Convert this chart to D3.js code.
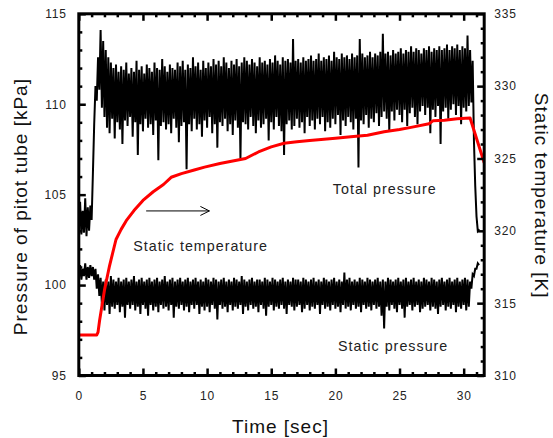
<!DOCTYPE html>
<html><head><meta charset="utf-8">
<script src="https://cdn.jsdelivr.net/npm/d3@7"></script>
<style>
body{margin:0;background:#fff}
svg text{font-family:Arial,"Liberation Sans",sans-serif}
</style>
</head><body>
<svg id="chart" width="553" height="438"></svg>
<script>
// ---- data ----
const sampleStep = 0.1; // seconds between samples of the pressure records
const totalPressure = [
103.2,104.6,102.8,104.1,102.9,104.8,102.7,104.3,103.0,104.4,
103.6,106.2,108.9,111.0,110.2,112.6,110.8,114.1,109.8,113.5,
109.3,113.0,108.7,112.6,108.4,112.3,109.2,112.0,108.1,112.2,
109.0,111.8,108.6,112.1,107.8,111.9,109.1,112.3,108.8,111.7,
109.3,112.0,108.2,111.8,109.0,112.4,107.2,111.9,108.9,112.1,
108.5,111.7,109.2,112.2,108.7,112.0,108.9,111.8,108.3,112.3,
109.1,112.0,106.9,111.9,108.8,112.5,109.0,112.1,108.6,111.8,
108.9,112.2,108.4,112.0,109.2,111.9,108.7,112.3,107.9,112.1,
108.8,112.4,109.0,111.9,106.4,112.2,108.9,112.0,108.5,112.6,
109.2,112.1,108.6,112.3,108.9,111.9,108.2,112.4,109.1,112.0,
108.7,112.3,109.3,112.1,108.4,112.5,108.9,112.2,107.6,112.4,
109.0,112.1,108.8,112.6,109.2,112.3,108.5,112.0,108.9,112.4,
108.3,112.2,109.1,112.5,108.7,112.1,107.0,112.3,109.0,112.6,
108.9,112.4,108.6,112.2,109.3,112.5,108.8,112.3,108.4,112.1,
109.1,112.6,108.7,112.3,108.9,112.4,109.2,112.2,108.0,112.5,
109.0,112.3,108.6,112.7,109.3,112.4,108.8,112.2,108.5,112.6,
107.2,112.4,108.9,112.5,109.1,112.3,108.6,113.6,108.8,112.4,
109.2,112.5,108.7,112.3,109.0,112.6,108.4,112.4,109.3,112.5,
108.8,112.7,109.1,112.4,108.6,112.5,109.2,112.8,108.9,112.4,
109.3,112.6,108.5,112.5,109.0,112.7,108.7,112.4,109.2,112.9,
108.9,112.6,109.4,112.5,108.3,112.8,109.1,112.6,108.8,112.7,
109.3,112.5,109.0,112.8,108.6,112.6,109.2,112.7,106.5,113.6,
109.1,112.8,108.9,112.6,109.4,112.7,108.7,112.9,109.2,112.6,
109.0,112.8,109.5,112.7,108.8,112.9,109.3,113.9,109.6,112.8,
109.2,112.9,108.5,112.7,109.6,113.0,109.1,112.8,109.7,112.9,
109.4,113.1,109.0,112.8,109.7,113.0,108.8,112.9,109.5,113.2,
109.8,112.9,109.3,113.1,108.9,113.0,109.6,112.8,109.9,113.1,
109.4,113.0,109.8,113.2,108.4,112.9,109.7,113.1,109.3,113.0,
109.9,113.2,107.8,113.0,109.6,113.1,109.8,113.3,109.2,113.0,
109.7,113.2,110.0,113.1,109.4,113.3,109.9,113.0,108.9,113.2,
109.8,113.1,109.6,113.8,109.9,113.0,110.1,112.4,108.0,105.5,
103.8,103.0,103.1
];
const staticPressure = [
100.4,101.1,100.3,100.9,100.5,101.2,100.3,101.0,100.4,101.1,
100.5,101.0,100.3,100.9,99.8,100.6,99.4,100.4,98.9,100.2,
98.6,100.3,98.9,100.2,98.4,100.5,98.8,100.3,98.7,100.2,
98.9,100.4,98.5,100.2,98.8,100.3,98.2,100.4,98.9,100.2,
98.7,100.3,98.9,100.5,98.6,100.2,98.8,100.3,98.4,100.4,
98.9,100.2,98.7,100.3,98.3,100.4,98.9,100.2,98.6,100.3,
98.8,100.4,98.5,100.2,98.9,100.3,98.7,100.5,98.8,100.2,
98.6,100.3,98.9,100.4,98.2,100.2,98.8,100.3,98.7,100.4,
98.9,100.2,98.6,100.3,98.8,100.4,98.5,100.2,98.9,100.3,
98.7,100.4,98.9,100.2,98.4,100.3,98.8,100.2,98.6,100.4,
98.8,100.3,98.5,100.2,98.9,100.4,98.7,100.3,98.1,100.2,
98.9,100.3,98.7,100.4,98.8,100.2,98.5,100.3,98.9,100.2,
98.6,100.4,98.8,100.3,98.7,100.2,98.9,100.5,98.4,100.3,
98.8,100.2,98.6,100.3,98.9,100.4,98.7,100.2,98.8,100.3,
98.5,100.3,98.9,100.2,98.7,100.4,98.3,100.3,98.8,100.2,
98.9,100.4,98.6,100.3,98.8,100.2,98.7,100.3,98.9,100.4,
98.7,100.2,98.4,100.3,98.9,100.2,98.8,100.4,98.6,100.3,
98.8,100.3,98.9,100.2,98.5,100.4,98.7,100.3,98.9,100.2,
98.6,100.3,98.8,100.4,98.7,100.2,98.9,100.3,98.4,100.2,
98.9,100.4,98.7,100.3,98.8,100.2,98.6,100.3,98.9,100.4,
98.7,100.2,98.8,100.3,98.5,100.2,98.9,100.7,98.7,100.3,
98.8,100.4,98.6,100.2,98.9,100.3,98.7,100.2,98.8,100.4,
98.5,100.3,98.9,100.2,98.7,100.4,98.8,100.3,98.6,100.2,
98.9,100.3,98.7,100.4,98.8,100.2,98.3,100.3,97.6,100.2,
98.8,100.4,98.6,100.3,98.9,100.2,98.7,100.3,98.5,100.4,
98.9,100.2,98.7,100.3,98.2,100.4,98.8,100.2,98.9,100.3,
98.6,100.4,98.8,100.2,98.9,100.3,98.5,100.2,98.7,100.4,
98.8,100.3,98.9,100.2,98.6,100.4,98.8,100.3,98.7,100.2,
98.4,100.3,98.8,100.4,98.9,100.2,98.6,100.3,98.8,100.4,
98.7,100.2,98.9,100.3,98.5,100.4,98.8,100.2,98.7,100.3,
98.9,100.4,98.6,100.3,98.8,100.2,99.8,100.6,100.5,100.9,
100.9,101.2,101.1
];
const tempTime = [0,1.4,1.5,1.62,2.0,2.4,2.9,3.3,3.7,4.3,5.0,5.8,6.6,7.2,8.0,9.0,9.8,11.0,12.4,13.0,
  14,15,16,17,18,20,21.2,22.5,23.8,25,25.9,27.3,27.6,28.5,29.5,30.5,31.6];
const tempValues = [312.8,312.8,313.0,313.8,315.9,317.6,319.4,320.1,320.7,321.4,322.1,322.7,323.2,323.7,323.95,324.2,324.4,324.65,324.9,325.0,
  325.45,325.8,326.05,326.15,326.25,326.4,326.5,326.6,326.85,327.0,327.15,327.4,327.6,327.65,327.75,327.8,324.7];

const timeDomain = [0, 31.6];
const pressureDomain = [95, 115];
const tempDomain = [310, 335];
const timeTicks = [0,5,10,15,20,25,30];
const pressureTicks = [95,100,105,110,115];
const tempTicks = [310,315,320,325,330,335];

const labelTotal = "Total pressure";
const labelStaticT = "Static temperature";
const labelStaticP = "Static pressure";
const xTitle = "Time [sec]";
const yTitleLeft = "Pressure of pitot tube [kPa]";
const yTitleRight = "Static temperature [K]";

// ---- drawing ----
const svg = d3.select("#chart");
const L = 78.8, R = 484.2, T = 13.8, B = 375.5;
const x = d3.scaleLinear().domain(timeDomain).range([L, R]);
const y = d3.scaleLinear().domain(pressureDomain).range([B, T]);
const y2 = d3.scaleLinear().domain(tempDomain).range([B, T]);

const range = (a, b, s) => d3.range(a, b + s / 2, s);
const minorT = range(0, 31, 1).filter(v => v % 5 !== 0);
const minorP = range(95, 115, 1).filter(v => v % 5 !== 0);
const minorK = range(310, 335, 1).filter(v => v % 5 !== 0);

svg.append("clipPath").attr("id", "clip")
  .append("rect").attr("x", L).attr("y", T).attr("width", R - L).attr("height", B - T);

const plot = svg.append("g").attr("clip-path", "url(#clip)");

const lineP = d3.line().x((d, i) => x(i * sampleStep)).y(d => y(d));
plot.append("path").datum(totalPressure).attr("d", lineP)
  .attr("fill", "none").attr("stroke", "#000").attr("stroke-width", 2);
plot.append("path").datum(staticPressure).attr("d", lineP)
  .attr("fill", "none").attr("stroke", "#000").attr("stroke-width", 2);

const lineT = d3.line().x((d, i) => x(tempTime[i])).y(d => y2(d));
plot.append("path").datum(tempValues).attr("d", lineT)
  .attr("fill", "none").attr("stroke", "#ff0000").attr("stroke-width", 3)
  .attr("stroke-linejoin", "round");

// axes
function styleAxis(g) {
  g.select(".domain").remove();
  g.selectAll(".tick line").attr("stroke", "#000").attr("stroke-width", 2.5);
  g.selectAll("text").attr("font-size", 12).attr("fill", "#222")
    .attr("font-family", "Arial, 'Liberation Sans', sans-serif")
    .style("letter-spacing", "0.8px");
}
const major = 7, minor = 3.5;
svg.append("g").attr("transform", `translate(0,${B})`)
  .call(d3.axisBottom(x).tickValues(timeTicks).tickSize(-major).tickPadding(16).tickFormat(d3.format("d"))).call(styleAxis);
svg.append("g").attr("transform", `translate(0,${B})`)
  .call(d3.axisBottom(x).tickValues(minorT).tickSize(-minor).tickFormat("")).call(styleAxis);
svg.append("g").attr("transform", `translate(0,${T})`)
  .call(d3.axisTop(x).tickValues(timeTicks).tickSize(-major).tickFormat("")).call(styleAxis);
svg.append("g").attr("transform", `translate(0,${T})`)
  .call(d3.axisTop(x).tickValues(minorT).tickSize(-minor).tickFormat("")).call(styleAxis);

svg.append("g").attr("transform", `translate(${L},0)`)
  .call(d3.axisLeft(y).tickValues(pressureTicks).tickSize(-major).tickPadding(12).tickFormat(d3.format("d"))).call(styleAxis);
svg.append("g").attr("transform", `translate(${L},0)`)
  .call(d3.axisLeft(y).tickValues(minorP).tickSize(-minor).tickFormat("")).call(styleAxis);
svg.append("g").attr("transform", `translate(${R},0)`)
  .call(d3.axisRight(y2).tickValues(tempTicks).tickSize(-major).tickPadding(10).tickFormat(d3.format("d"))).call(styleAxis);
svg.append("g").attr("transform", `translate(${R},0)`)
  .call(d3.axisRight(y2).tickValues(minorK).tickSize(-minor).tickFormat("")).call(styleAxis);

// frame
svg.append("rect").attr("x", L).attr("y", T).attr("width", R - L).attr("height", B - T)
  .attr("fill", "none").attr("stroke", "#000").attr("stroke-width", 3);

// annotations
function label(txt, t, p) {
  svg.append("text").attr("x", x(t)).attr("y", y(p)).text(txt)
    .attr("font-size", 14.3).attr("fill", "#222").style("letter-spacing", "1px");
}
label(labelTotal, 19.8, 105.02);
label(labelStaticT, 4.24, 101.88);
label(labelStaticP, 20.2, 96.36);

// arrow
const ax0 = x(5.25), ax1 = x(10.18), ay = y(104.1);
svg.append("path").attr("d", `M${ax0},${ay}H${ax1}M${ax1 - 9},${ay - 4.5}L${ax1},${ay}L${ax1 - 9},${ay + 4.5}`)
  .attr("fill", "none").attr("stroke", "#000").attr("stroke-width", 1);

// titles
svg.append("text").attr("x", (L + R) / 2 - 1).attr("y", 433).attr("text-anchor", "middle")
  .attr("font-size", 19).attr("fill", "#111").style("letter-spacing", "1px").text(xTitle);
svg.append("text").attr("transform", `translate(27,${(T + B) / 2 + 12}) rotate(-90)`).attr("text-anchor", "middle")
  .attr("font-size", 19).attr("fill", "#111").style("letter-spacing", "1px").text(yTitleLeft);
svg.append("text").attr("transform", `translate(535,${(T + B) / 2 + 1}) rotate(90)`).attr("text-anchor", "middle")
  .attr("font-size", 19).attr("fill", "#111").style("letter-spacing", "1px").text(yTitleRight);
</script>
</body></html>
